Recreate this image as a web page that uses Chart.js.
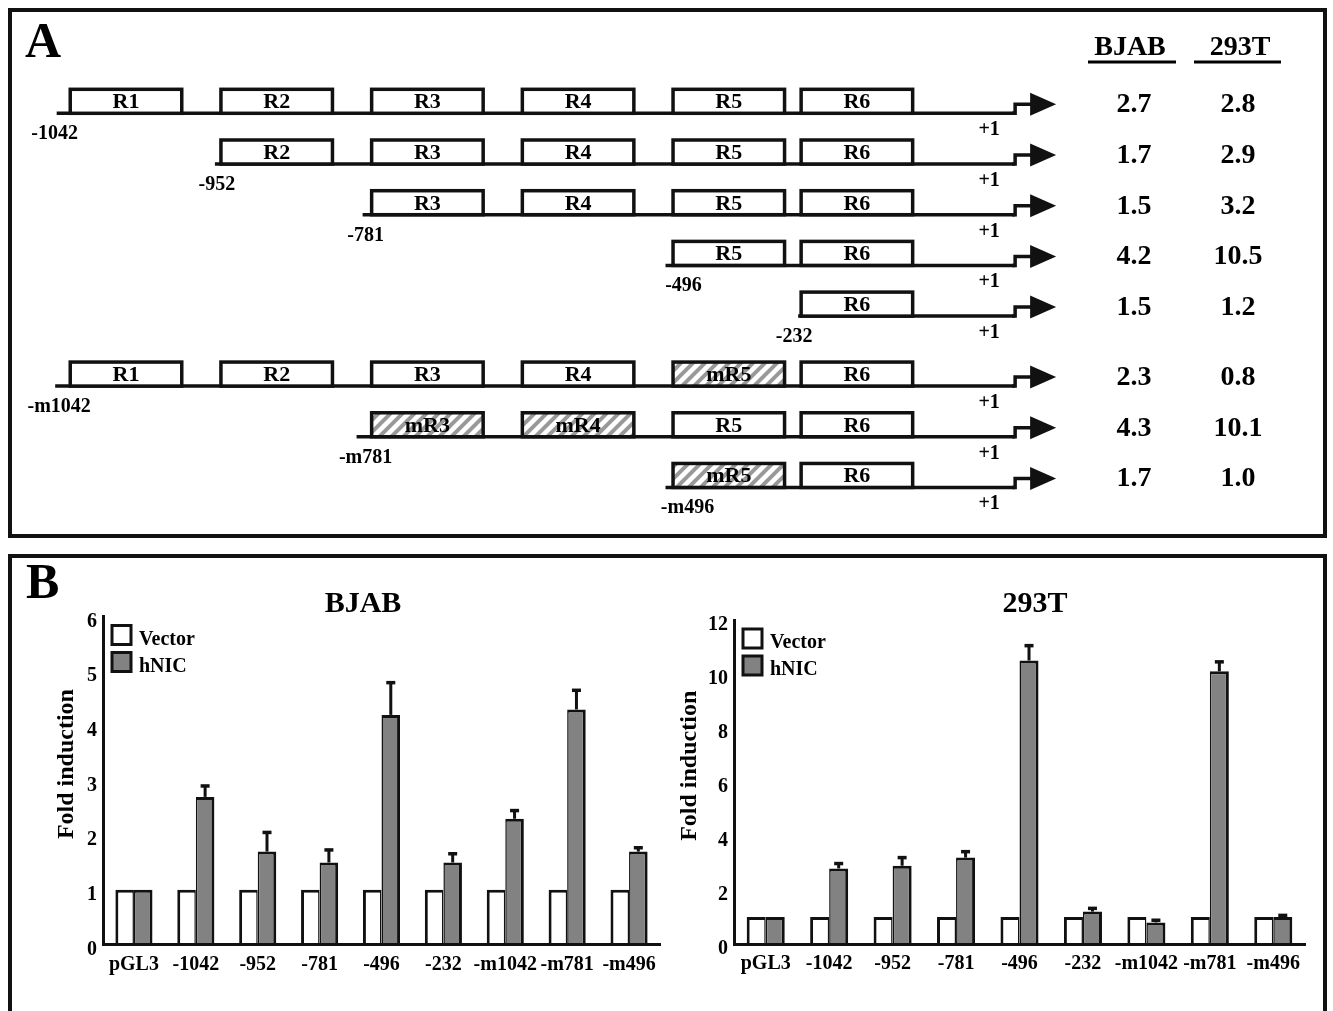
<!DOCTYPE html>
<html><head><meta charset="utf-8">
<script src="https://cdn.jsdelivr.net/npm/chart.js@4.4.1/dist/chart.umd.min.js"></script>
<style>
html,body{margin:0;padding:0;background:#fff;overflow:hidden;width:1333px;height:1011px;}
.panel{position:absolute;border:4px solid #111;box-sizing:border-box;}
#pa{left:8px;top:8px;width:1319px;height:530px;}
#pb{left:8px;top:554px;width:1319px;height:480px;}
canvas{position:absolute;}
</style></head><body>
<div class="panel" id="pa"></div>
<div class="panel" id="pb"></div>
<canvas id="cA" width="1333" height="545" style="left:0;top:0"></canvas>
<canvas id="cB1" width="680" height="455" style="left:0;top:556px"></canvas>
<canvas id="cB2" width="663" height="455" style="left:670px;top:556px"></canvas>
<script>
// ---------------- DATA ----------------
// Panel A: promoter constructs (schematic region slots, not to scale)
const regionNames = ['R1', 'R2', 'R3', 'R4', 'R5', 'R6'];
const regionSlots = [1, 2, 3, 4, 5, 5.85];
const constructs = ['-1042', '-952', '-781', '-496', '-232', '-m1042', '-m781', '-m496'];
const constructRegions = [
  ['R1', 'R2', 'R3', 'R4', 'R5', 'R6'],
  ['R2', 'R3', 'R4', 'R5', 'R6'],
  ['R3', 'R4', 'R5', 'R6'],
  ['R5', 'R6'],
  ['R6'],
  ['R1', 'R2', 'R3', 'R4', 'mR5', 'R6'],
  ['mR3', 'mR4', 'R5', 'R6'],
  ['mR5', 'R6']
];
const constructStart = [0.54, 1.59, 2.57, 4.58, 5.46, 0.53, 2.53, 4.58];
const tssSlot = 6.9;
const foldBJAB = [2.7, 1.7, 1.5, 4.2, 1.5, 2.3, 4.3, 1.7];
const fold293T = [2.8, 2.9, 3.2, 10.5, 1.2, 0.8, 10.1, 1.0];
const cellLines = ['BJAB', '293T'];

// Panel B: luciferase fold induction
const categories = ['pGL3', '-1042', '-952', '-781', '-496', '-232', '-m1042', '-m781', '-m496'];
const seriesNames = ['Vector', 'hNIC'];
const vectorBJAB = [1, 1, 1, 1, 1, 1, 1, 1, 1];
const hnicBJAB = [1.0, 2.7, 1.7, 1.5, 4.2, 1.5, 2.3, 4.3, 1.7];
const errBJAB = [0, 0.2, 0.35, 0.23, 0.59, 0.16, 0.15, 0.35, 0.07];
const vector293T = [1, 1, 1, 1, 1, 1, 1, 1, 1];
const hnic293T = [1.0, 2.8, 2.9, 3.2, 10.5, 1.2, 0.8, 10.1, 1.0];
const err293T = [0, 0.18, 0.3, 0.22, 0.55, 0.12, 0.08, 0.35, 0.06];
const yMaxBJAB = 6, yStepBJAB = 1;
const yMax293T = 12, yStep293T = 2;
const yTitle = 'Fold induction';

// ---------------- STYLE ----------------
const FONT = '"Liberation Serif","Times New Roman",serif';
const INK = '#111';
const GRAY = '#828282';
const labelDx = [-2, 2, 3, 18, -4, 4, 9, 22]; // horizontal nudge of construct names (px)
Chart.defaults.font.family = FONT;
Chart.defaults.color = '#000';

function bold(px) { return 'bold ' + px + 'px ' + FONT; }

// ---------------- PANEL A ----------------
const ctxA = document.getElementById('cA').getContext('2d');
function makeHatch() {
  const n = 12;
  const c = document.createElement('canvas');
  c.width = n; c.height = n;
  const g = c.getContext('2d');
  g.fillStyle = '#fff'; g.fillRect(0, 0, n, n);
  g.strokeStyle = '#999'; g.lineWidth = 4;
  g.beginPath();
  g.moveTo(-n / 2, n * 1.5); g.lineTo(n * 1.5, -n / 2);
  g.moveTo(-n / 2, n / 2); g.lineTo(n / 2, -n / 2);
  g.moveTo(n / 2, n * 1.5); g.lineTo(n * 1.5, n / 2);
  g.stroke();
  return ctxA.createPattern(c, 'repeat');
}
const hatch = makeHatch();
function rowPos(i) { return i + (constructs[i].startsWith('-m') ? 0.38 : 0); }

const diagramPlugin = {
  id: 'diagram',
  afterDatasetsDraw(chart) {
    const xs = chart.scales.x, ys = chart.scales.y, ctx = chart.ctx;
    const half = 0.37, boxH = 24;
    ctx.save();
    ctx.fillStyle = '#000';
    ctx.textBaseline = 'alphabetic';
    ctx.font = bold(50); ctx.textAlign = 'left';
    ctx.fillText('A', 25, 57);
    // column headers
    const colX = [1134, 1238];
    const underline = [[1088, 1176], [1194, 1281]];
    ctx.font = bold(28); ctx.textAlign = 'center';
    cellLines.forEach((c, k) => {
      ctx.fillText(c, k === 0 ? 1130 : 1240, 55);
      ctx.fillRect(underline[k][0], 60.5, underline[k][1] - underline[k][0], 3);
    });
    constructs.forEach((name, i) => {
      const y = ys.getPixelForValue(rowPos(i));
      const xS = xs.getPixelForValue(constructStart[i]);
      const xT = xs.getPixelForValue(tssSlot);
      // transcription start arrow
      ctx.strokeStyle = INK; ctx.fillStyle = INK; ctx.lineWidth = 3.5; ctx.lineJoin = 'miter';
      ctx.beginPath(); ctx.moveTo(xT - 3, y); ctx.lineTo(xT, y); ctx.lineTo(xT, y - 9); ctx.lineTo(xT + 17, y - 9); ctx.stroke();
      ctx.beginPath(); ctx.moveTo(xT + 15, y - 20.5); ctx.lineTo(xT + 41, y - 9); ctx.lineTo(xT + 15, y + 2.5); ctx.closePath(); ctx.fill();
      // regions
      constructRegions[i].forEach(r => {
        const mut = r.startsWith('m');
        const slot = regionSlots[regionNames.indexOf(mut ? r.slice(1) : r)];
        const x0 = xs.getPixelForValue(slot - half), x1 = xs.getPixelForValue(slot + half);
        ctx.fillStyle = mut ? hatch : '#fff';
        ctx.fillRect(x0, y - boxH, x1 - x0, boxH);
        ctx.strokeStyle = INK; ctx.lineWidth = 3.5;
        ctx.strokeRect(x0, y - boxH, x1 - x0, boxH);
        ctx.fillStyle = '#000'; ctx.font = bold(22); ctx.textAlign = 'center';
        ctx.fillText(r, (x0 + x1) / 2, y - 5);
      });
      // labels
      ctx.fillStyle = '#000'; ctx.font = bold(20); ctx.textAlign = 'center';
      ctx.fillText(name, xS + labelDx[i], y + 26);
      ctx.fillText('+1', xT - 26, y + 22);
      ctx.font = bold(28);
      ctx.fillText(foldBJAB[i].toFixed(1), colX[0], y - 1);
      ctx.fillText(fold293T[i].toFixed(1), colX[1], y - 1);
    });
    ctx.restore();
  }
};

new Chart(ctxA, {
  type: 'scatter',
  data: {
    datasets: constructs.map((c, i) => ({
      label: c,
      data: [{ x: constructStart[i], y: rowPos(i) }, { x: tssSlot, y: rowPos(i) }],
      showLine: true, borderColor: INK, borderWidth: 3.5, pointRadius: 0, fill: false
    }))
  },
  options: {
    responsive: false, animation: false, devicePixelRatio: 1,
    layout: { padding: 0 },
    plugins: { legend: { display: false }, tooltip: { enabled: false } },
    scales: {
      x: { type: 'linear', min: 0.1639, max: 9.0093, display: false },
      y: { type: 'linear', min: -2.235, max: 8.515, reverse: true, display: false }
    }
  },
  plugins: [diagramPlugin]
});

// ---------------- PANEL B ----------------
function makeBarChart(id, cfg) {
  const deco = {
    id: 'deco' + id,
    afterDatasetsDraw(chart) {
      const ys = chart.scales.y, ctx = chart.ctx;
      ctx.save();
      chart.data.datasets.forEach((ds, di) => {
        if (!ds.errors) return;
        const meta = chart.getDatasetMeta(di);
        meta.data.forEach((el, i) => {
          const e = ds.errors[i];
          if (!e) return;
          const yTop = ys.getPixelForValue(ds.data[i] + e);
          ctx.strokeStyle = INK;
          ctx.lineWidth = 3;
          ctx.beginPath(); ctx.moveTo(el.x, el.y); ctx.lineTo(el.x, yTop); ctx.stroke();
          ctx.lineWidth = 3.5;
          ctx.beginPath(); ctx.moveTo(el.x - 4.5, yTop); ctx.lineTo(el.x + 4.5, yTop); ctx.stroke();
        });
      });
      ctx.restore();
    },
    afterDraw(chart) {
      const ctx = chart.ctx, a = chart.chartArea;
      ctx.save();
      ctx.fillStyle = '#000';
      ctx.textBaseline = 'alphabetic';
      if (cfg.letter) { ctx.font = bold(50); ctx.textAlign = 'left'; ctx.fillText(cfg.letter, 26, 42); }
      ctx.font = bold(30); ctx.textAlign = 'center';
      ctx.fillText(cfg.title, cfg.titleX, 56);
      // y title
      ctx.save();
      ctx.translate(cfg.yTitleX, a.top + 0.45 * (a.bottom - a.top));
      ctx.rotate(-Math.PI / 2);
      ctx.font = bold(24); ctx.textAlign = 'center'; ctx.textBaseline = 'middle';
      ctx.fillText(yTitle, 0, 0);
      ctx.restore();
      // legend
      chart.data.datasets.forEach((ds, k) => {
        const bx = a.left + 9, by = a.top + 9 + k * 27, s = 19;
        ctx.fillStyle = ds.backgroundColor;
        ctx.fillRect(bx, by, s, s);
        ctx.strokeStyle = INK; ctx.lineWidth = 3;
        ctx.strokeRect(bx, by, s, s);
        ctx.fillStyle = '#000'; ctx.font = bold(20); ctx.textAlign = 'left'; ctx.textBaseline = 'alphabetic';
        ctx.fillText(ds.label, bx + s + 8, by + s);
      });
      ctx.restore();
    }
  };
  const tickFont = { family: FONT, size: 20, weight: 'bold' };
  return new Chart(document.getElementById(id), {
    type: 'bar',
    data: {
      labels: categories,
      datasets: [
        { label: seriesNames[0], data: cfg.vector, backgroundColor: '#ffffff', borderColor: INK,
          borderWidth: { top: 3, left: 3, right: 1.5, bottom: 0 }, categoryPercentage: 0.6, barPercentage: 1.0 },
        { label: seriesNames[1], data: cfg.hnic, errors: cfg.err, backgroundColor: GRAY, borderColor: INK,
          borderWidth: { top: 3, left: 1.5, right: 3, bottom: 0 }, categoryPercentage: 0.6, barPercentage: 1.0 }
      ]
    },
    options: {
      responsive: false, animation: false, devicePixelRatio: 1,
      layout: { padding: { left: 0, right: cfg.padRight, top: cfg.padTop, bottom: 0 } },
      plugins: { legend: { display: false }, tooltip: { enabled: false } },
      scales: {
        x: {
          grid: { display: false, drawTicks: false },
          border: { display: true, color: INK, width: 3, z: 1 },
          ticks: { font: tickFont, color: '#000', padding: 8, maxRotation: 0, autoSkip: false },
          afterFit(s) { s.height = cfg.xHeight; }
        },
        y: {
          min: 0, max: cfg.yMax,
          grid: { display: false, drawTicks: false },
          border: { display: true, color: INK, width: 3, z: 1 },
          ticks: { stepSize: cfg.step, font: tickFont, color: '#000', padding: 6, labelOffset: 5 },
          afterFit(s) { s.width = cfg.yWidth; }
        }
      }
    },
    plugins: [deco]
  });
}

makeBarChart('cB1', {
  vector: vectorBJAB, hnic: hnicBJAB, err: errBJAB, yMax: yMaxBJAB, step: yStepBJAB,
  padRight: 20, padTop: 60.5, xHeight: 66.5, yWidth: 103,
  title: cellLines[0], titleX: 363, yTitleX: 67, letter: 'B'
});
makeBarChart('cB2', {
  vector: vector293T, hnic: hnic293T, err: err293T, yMax: yMax293T, step: yStep293T,
  padRight: 28, padTop: 64, xHeight: 67, yWidth: 64,
  title: cellLines[1], titleX: 365, yTitleX: 20, letter: null
});
</script>
</body></html>
